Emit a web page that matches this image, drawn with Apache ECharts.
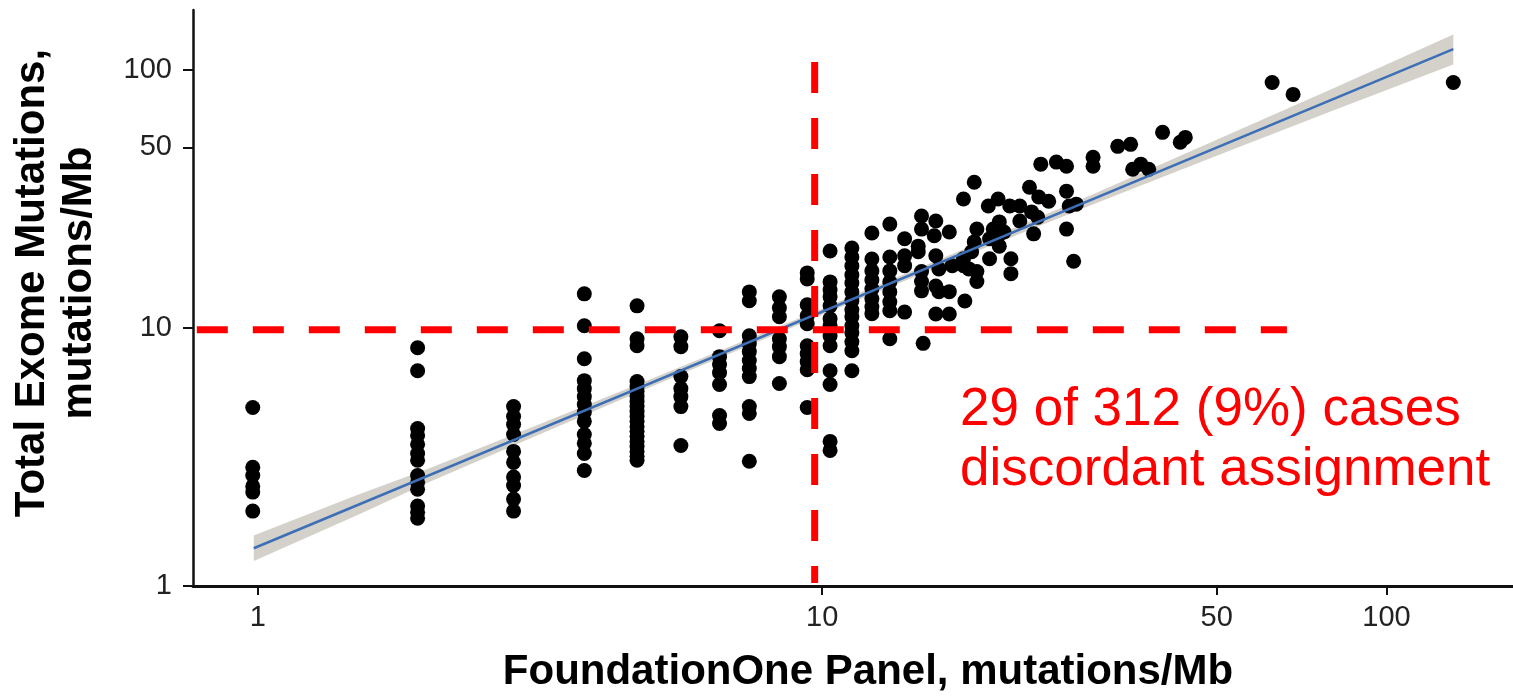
<!DOCTYPE html>
<html>
<head>
<meta charset="utf-8">
<script src="https://cdn.jsdelivr.net/npm/echarts@6/dist/echarts.min.js"></script>
<style>
  html, body { margin: 0; padding: 0; background: #fff; }
  #chart { width: 1513px; height: 698px; }
</style>
</head>
<body>
<div id="chart"></div>
<script>
// tick labels
var xTicks = [1, 10, 50, 100];
var yTicks = [1, 10, 50, 100];

// FoundationOne panel TMB (x) and whole exome TMB (y)
var panelTmb = [
  0.98, 0.98, 0.98, 0.98, 0.98, 0.98,
  1.92, 1.92, 1.92, 1.92, 1.92, 1.92, 1.92, 1.92, 1.92, 1.92, 1.92, 1.92, 1.92,
  2.84, 2.84, 2.84, 2.84, 2.84, 2.84, 2.84, 2.84, 2.84, 2.84,
  3.79, 3.79, 3.79, 3.79, 3.79, 3.79, 3.79, 3.79, 3.79, 3.79, 3.79, 3.79, 3.79,
  4.7, 4.7, 4.7, 4.7, 4.7, 4.7, 4.7, 4.7, 4.7, 4.7, 4.7, 4.7, 4.7, 4.7, 4.7, 4.7, 4.7, 4.7, 4.7, 4.7,
  5.62, 5.62, 5.62, 5.62, 5.62, 5.62, 5.62,
  6.58, 6.58, 6.58, 6.58, 6.58, 6.58, 6.58,
  7.43, 7.43, 7.43, 7.43, 7.43, 7.43, 7.43, 7.43, 7.43, 7.43, 7.43,
  8.4, 8.4, 8.4, 8.4, 8.4, 8.4, 8.4,
  9.41, 9.41, 9.41, 9.41, 9.41, 9.41, 9.41, 9.41, 9.41, 9.41,
  10.33, 10.33, 10.33, 10.33, 10.33, 10.33, 10.33, 10.33, 10.33, 10.33, 10.33, 10.33, 10.33,
  11.29, 11.29, 11.29, 11.29, 11.29, 11.29, 11.29, 11.29, 11.29, 11.29, 11.29, 11.29, 11.29, 11.29,
  12.25, 12.25, 12.25, 12.25, 12.25, 12.25, 12.25, 12.25,
  13.18, 13.18, 13.18, 13.18, 13.18, 13.18, 13.18, 13.18,
  14.0, 14.0, 14.0, 14.0, 15.0, 15.0, 14.8, 14.8, 15.0, 15.0, 15.0, 15.1,
  15.9, 15.8, 15.9, 16.1, 15.9, 16.1, 15.9, 16.8, 17.0, 16.8, 16.8,
  17.8, 17.8, 17.8, 18.2, 17.9, 18.6, 18.8, 18.6, 18.4, 18.8, 18.8,
  19.7, 19.8, 19.8, 20.1, 20.5, 20.6, 20.5, 20.6, 21.0, 21.5, 21.6, 21.6,
  22.4, 22.4, 23.3, 23.5, 23.7, 24.1, 24.2, 25.2, 24.4, 26.0, 27.1, 27.1,
  27.4, 28.2, 27.1, 27.9, 30.2, 30.2, 33.4, 35.2, 35.5, 36.7, 37.9, 40.1,
  43.1, 44.0, 62.7, 68.3, 131.3
];
var exomeTmb = [
  4.91, 2.88, 2.68, 2.43, 2.31, 1.95,
  8.37, 6.82, 4.07, 3.83, 3.54, 3.26, 3.07, 2.68, 2.52, 2.37, 2.04, 1.93, 1.83,
  4.95, 4.53, 4.22, 3.86, 3.32, 3.01, 2.64, 2.45, 2.17, 1.95,
  13.53, 10.18, 7.59, 6.24, 5.81, 5.41, 5.04, 4.7, 4.34, 3.86, 3.57, 3.26, 2.8,
  12.16, 9.07, 8.52, 6.19, 5.92, 5.66, 5.41, 5.18, 4.95, 4.74, 4.53, 4.34, 4.15, 3.97, 3.8, 3.63, 3.47, 3.32, 3.18, 3.07,
  9.23, 8.45, 6.47, 5.81, 5.41, 4.95, 3.5,
  9.74, 7.73, 7.2, 6.7, 6.03, 4.57, 4.26,
  13.77, 12.72, 9.31, 8.68, 8.08, 7.46, 6.95, 6.47, 4.95, 4.66, 3.04,
  13.17, 11.95, 11.03, 9.07, 8.45, 7.73, 6.08,
  16.31, 15.46, 12.27, 11.13, 10.36, 8.52, 7.94, 7.39, 6.88, 4.91,
  19.83, 15.05, 14.02, 13.17, 12.16, 10.83, 10.18, 9.31, 8.52, 6.82, 6.03, 3.63, 3.35,
  20.37, 18.8, 17.36, 16.02, 14.92, 13.77, 12.72, 11.74, 11.03, 10.18, 9.57, 8.83, 8.15, 6.82,
  23.27, 18.47, 16.6, 15.32, 14.15, 12.94, 12.05, 11.33,
  25.2, 18.8, 16.6, 15.05, 13.77, 12.6, 11.63, 9.07,
  22.1, 19.0, 17.4, 11.5, 27.1, 24.1, 20.7, 19.7, 16.5, 15.1, 13.9, 8.7,
  25.9, 22.7, 19.0, 16.9, 14.5, 13.8, 11.3, 23.5, 17.4, 13.8, 11.3,
  31.5, 18.5, 17.4, 16.9, 12.7, 36.6, 24.1, 21.5, 19.7, 16.5, 15.1,
  29.6, 22.1, 18.5, 24.1, 31.5, 25.7, 22.7, 20.7, 23.5, 29.6, 18.5, 16.2,
  29.6, 25.9, 35.0, 28.1, 23.1, 26.8, 32.1, 30.9, 43.0, 43.8, 42.2, 33.8,
  29.6, 30.1, 24.1, 18.1, 45.7, 42.2, 50.4, 51.3, 41.1, 43.0, 41.1, 57.1,
  52.3, 54.6, 89.1, 80.1, 89.1
];

// fitted line and its confidence band
var fitX = [0.984, 131.3];
var fitY = [1.4, 120];
var bandX = [0.984, 1.5, 2, 3, 5, 10, 20, 30, 50, 80, 131.3];
var bandUpper = [1.57, 2.25, 2.84, 4.05, 6.36, 11.84, 22.4, 32.7, 53.4, 84.0, 136.5];
var bandLower = [1.25, 1.88, 2.51, 3.68, 5.93, 11.22, 20.9, 29.9, 46.3, 69.1, 104.5];

// 10 mutations/Mb cut-offs
var cutH = [[0.78, 9.82], [66.6, 9.82]];
var cutV = [[9.7, 107], [9.7, 1.027]];

var font = '"Liberation Sans", Arial, sans-serif';
var chart = echarts.init(document.getElementById('chart'));

var points = panelTmb.map(function (x, i) {
  return [x, exomeTmb[i]];
});

var option = {
  animation: false,
  backgroundColor: '#fff',
  grid: { left: 193, top: 10, width: 1326, height: 578 },
  xAxis: {
    type: 'log',
    min: 0.768,
    max: 167.5,
    name: 'FoundationOne Panel, mutations/Mb',
    nameLocation: 'middle',
    nameGap: 65,
    nameTextStyle: {
      color: '#000',
      fontSize: 42,
      fontWeight: 'bold',
      fontFamily: font,
      padding: [0, 0, 0, 30],
    },
    axisLine: { lineStyle: { color: '#111', width: 3 } },
    axisTick: {
      customValues: xTicks,
      length: 9,
      lineStyle: { color: '#111', width: 2 },
    },
    axisLabel: {
      customValues: xTicks,
      margin: 17,
      color: '#222',
      fontSize: 29,
      fontFamily: font,
    },
    splitLine: { show: false },
  },
  yAxis: {
    type: 'log',
    min: 1,
    max: 170,
    name: 'Total Exome Mutations,\nmutations/Mb',
    nameLocation: 'middle',
    nameRotate: 90,
    nameGap: 90,
    nameTextStyle: {
      color: '#000',
      fontSize: 42,
      fontWeight: 'bold',
      fontFamily: font,
      lineHeight: 47,
      padding: [0, 0, 0, 30],
    },
    axisLine: { lineStyle: { color: '#111', width: 2.5 } },
    axisTick: {
      customValues: yTicks,
      length: 10,
      lineStyle: { color: '#111', width: 2 },
    },
    axisLabel: {
      customValues: yTicks,
      margin: 21,
      color: '#222',
      fontSize: 29,
      fontFamily: font,
    },
    splitLine: { show: false },
  },
  graphic: [
    {
      type: 'text',
      left: 960,
      top: 380,
      z: 20,
      style: {
        text: '29 of 312 (9%) cases\ndiscordant assignment',
        fill: '#ff0000',
        font: '53px ' + font,
        lineHeight: 60,
      },
    },
  ],
  series: [
    {
      // confidence band
      type: 'custom',
      silent: true,
      z: 1,
      data: [[bandX[0], bandUpper[0]]],
      renderItem: function (params, api) {
        var pts = [];
        for (var i = 0; i < bandX.length; i++) {
          pts.push(api.coord([bandX[i], bandUpper[i]]));
        }
        for (var j = bandX.length - 1; j >= 0; j--) {
          pts.push(api.coord([bandX[j], bandLower[j]]));
        }
        return {
          type: 'polygon',
          shape: { points: pts },
          style: { fill: '#d4d1cb' },
        };
      },
    },
    {
      type: 'scatter',
      z: 2,
      symbolSize: 15,
      itemStyle: { color: '#000', opacity: 1 },
      data: points,
    },
    {
      type: 'line',
      z: 3,
      symbol: 'none',
      lineStyle: { color: '#3d6fb6', width: 2.5 },
      data: fitX.map(function (x, i) {
        return [x, fitY[i]];
      }),
    },
    {
      type: 'line',
      z: 5,
      symbol: 'none',
      lineStyle: { color: '#ff0000', width: 7, type: [31, 25] },
      data: cutH,
    },
    {
      type: 'line',
      z: 5,
      symbol: 'none',
      lineStyle: { color: '#ff0000', width: 7, type: [31, 25] },
      data: cutV,
    },
  ],
};
chart.setOption(option);
</script>
</body>
</html>
